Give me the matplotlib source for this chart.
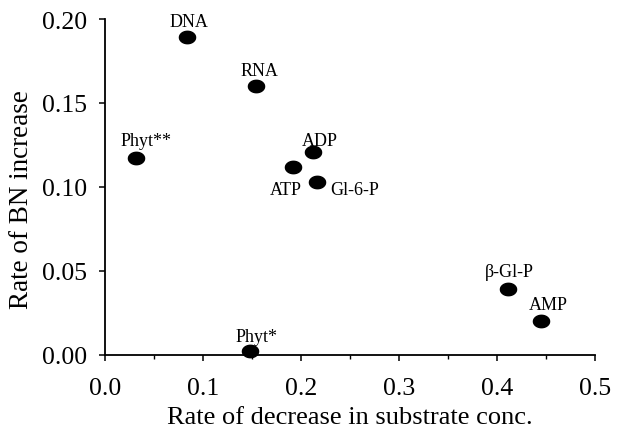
import matplotlib
matplotlib.use("Agg")
import matplotlib.pyplot as plt
import numpy as np
from matplotlib.path import Path
from matplotlib.ticker import MultipleLocator, FormatStrFormatter

plt.rcParams['font.family'] = ['Liberation Serif', 'DejaVu Serif']

names = ["DNA", "RNA", "Phyt**", "ADP", "ATP", "Gl-6-P", "Phyt*", "β-Gl-P", "AMP"]
x_vals = [0.084, 0.154, 0.032, 0.212, 0.192, 0.216, 0.148, 0.411, 0.445]
y_vals = [0.189, 0.160, 0.117, 0.121, 0.112, 0.103, 0.002, 0.039, 0.020]

# label offsets in pixels (dx, dy) and alignment
label_pos = {
    "DNA": (2, 11, "center", "baseline"),
    "RNA": (4, 11, "center", "baseline"),
    "Phyt**": (10, 13, "center", "baseline"),
    "ADP": (7, 7, "center", "baseline"),
    "ATP": (-7, -27, "center", "baseline"),
    "Gl-6-P": (14, -12, "left", "baseline"),
    "Phyt*": (7, 10, "center", "baseline"),
    "β-Gl-P": (2, 13, "center", "baseline"),
    "AMP": (7, 12, "center", "baseline"),
}

fig = plt.figure(figsize=(6.17, 4.35), dpi=100)
ax = fig.add_axes([0.170, 0.182, 0.794, 0.772])

t = np.linspace(0, 2 * np.pi, 60)
ell = Path(np.column_stack([1.3 * np.cos(t), np.sin(t)]), closed=True)
ax.scatter(x_vals, y_vals, marker=ell, s=135, color="black", zorder=3, clip_on=False)

for n, xv, yv in zip(names, x_vals, y_vals):
    dx, dy, ha, va = label_pos[n]
    ax.annotate(n, (xv, yv), xytext=(dx, dy), textcoords="offset pixels",
                ha=ha, va=va, fontsize=13)

ax.set_xlim(0, 0.5)
ax.set_ylim(0, 0.20)
ax.xaxis.set_major_locator(MultipleLocator(0.1))
ax.xaxis.set_minor_locator(MultipleLocator(0.05))
ax.yaxis.set_major_locator(MultipleLocator(0.05))
ax.xaxis.set_major_formatter(FormatStrFormatter("%.1f"))
ax.yaxis.set_major_formatter(FormatStrFormatter("%.2f"))

for s in ["top", "right"]:
    ax.spines[s].set_visible(False)
for s in ["left", "bottom"]:
    ax.spines[s].set_linewidth(1.3)

ax.tick_params(axis="both", which="major", direction="out", length=4, width=1.1,
               labelsize=18.5)
ax.tick_params(axis="y", which="major", pad=9)
ax.tick_params(axis="x", which="major", pad=12)
ax.tick_params(axis="x", which="minor", direction="out", length=3, width=1.0)

ax.set_xlabel("Rate of decrease in substrate conc.", fontsize=19, labelpad=5)
ax.set_ylabel("Rate of BN increase", fontsize=19.5)
ax.yaxis.set_label_coords(-0.145, 0.464)

fig.savefig("out.png", dpi=100)
